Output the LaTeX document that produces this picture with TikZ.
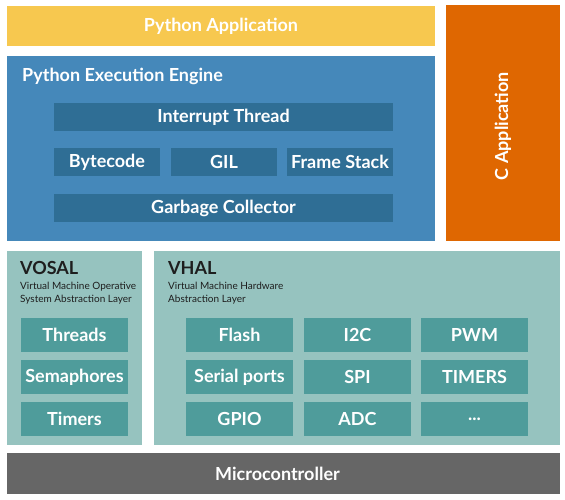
\documentclass[tikz,border=0pt]{standalone}
\usepackage{fontspec}
\setmainfont{Lato}
\definecolor{pyapp}{HTML}{F7C84F}
\definecolor{capp}{HTML}{DF6701}
\definecolor{engine}{HTML}{4588BA}
\definecolor{engbox}{HTML}{2F6E95}
\definecolor{layer}{HTML}{96C3BF}
\definecolor{laybox}{HTML}{4F9C9B}
\definecolor{mcu}{HTML}{666666}
\definecolor{darktext}{HTML}{1E1E1E}
\tikzset{
  blk/.style={anchor=north west, inner sep=0pt, outer sep=0pt, text=white, font=\bfseries\fontsize{18}{21}\selectfont},
  eng/.style={blk, fill=engbox, minimum height=28pt},
  lay/.style={blk, fill=laybox, minimum width=107pt, minimum height=34pt},
  ttl/.style={anchor=west, inner sep=0pt, font=\bfseries\fontsize{18}{21}\selectfont},
  sub/.style={anchor=north west, inner sep=0pt, align=left, text=darktext, font=\fontsize{10}{12.5}\selectfont}
}
\begin{document}
\begin{tikzpicture}[x=1pt,y=-1pt]
\useasboundingbox[fill=white] (0,0) rectangle (565,500);
% top
\node[blk, fill=pyapp, minimum width=428pt, minimum height=40pt] (pyapp) at (7,6) {Python Application};
\node[blk, fill=capp, minimum width=114pt, minimum height=236pt] (capp) at (446,5) {};
\node[rotate=90, text=white, inner sep=0pt, font=\bfseries\fontsize{18}{21}\selectfont] (capptxt) at ([yshift=-3pt]capp.center) {C Application};
% engine
\node[blk, fill=engine, minimum width=428pt, minimum height=185pt] (engine) at (7,56) {};
\node[ttl, text=white] (enginetxt) at (22,76) {Python Execution Engine};
\node[eng, minimum width=339pt] (irq) at (54,103) {Interrupt Thread};
\node[eng, minimum width=106pt] (bytecode) at (54,148) {Bytecode};
\node[eng, minimum width=106pt] (gil) at (171,148) {GIL};
\node[eng, minimum width=106pt] (frame) at (287,148) {Frame Stack};
\node[eng, minimum width=339pt] (gc) at (54,194) {Garbage Collector};
% VOSAL
\node[blk, fill=layer, minimum width=135pt, minimum height=194pt] (vosal) at (7,251) {};
\node[ttl, text=darktext] (vosaltxt) at (20,268) {VOSAL};
\node[sub] (vosalsub) at (20,282) {Virtual Machine Operative\\System Abstraction Layer};
\node[lay] (threads) at (21,318) {Threads};
\node[lay] (sema) at (21,360) {Semaphores};
\node[lay] (timers) at (21,402) {Timers};
% VHAL
\node[blk, fill=layer, minimum width=406pt, minimum height=194pt] (vhal) at (154,251) {};
\node[ttl, text=darktext] (vhaltxt) at (168,268) {VHAL};
\node[sub] (vhalsub) at (168,282) {Virtual Machine Hardware\\Abstraction Layer};
\node[lay] (flash) at (186,318) {Flash};
\node[lay] (i2c) at (304,318) {I2C};
\node[lay] (pwm) at (421,318) {PWM};
\node[lay] (serial) at (186,360) {Serial ports};
\node[lay] (spi) at (304,360) {SPI};
\node[lay] (tim) at (421,360) {TIMERS};
\node[lay] (gpio) at (186,402) {GPIO};
\node[lay] (adc) at (304,402) {ADC};
\node[lay] (more) at (421,402) {...};
% MCU
\node[blk, fill=mcu, minimum width=553pt, minimum height=41pt] (mcu) at (7,453) {};
\node[text=white, inner sep=0pt, font=\bfseries\fontsize{18}{21}\selectfont] (mcutxt) at ([xshift=-6pt]mcu.center) {Microcontroller};
\end{tikzpicture}
\end{document}
